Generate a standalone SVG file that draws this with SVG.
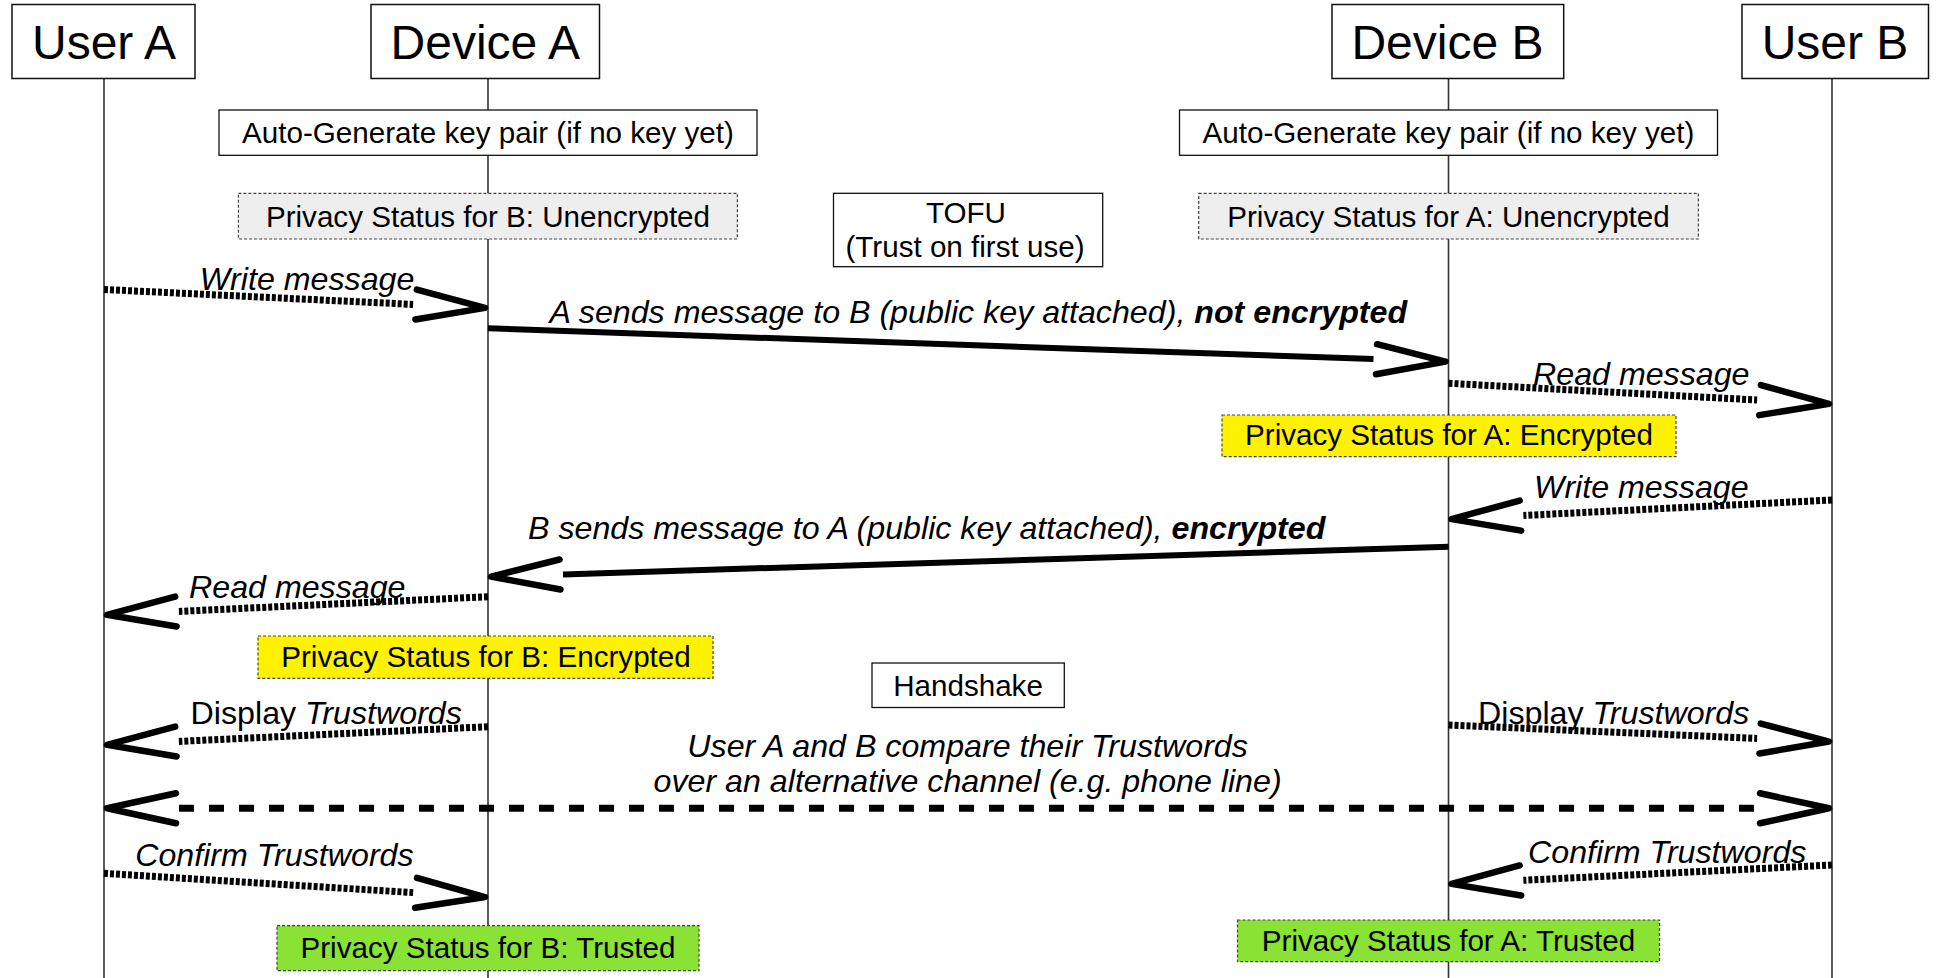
<svg xmlns="http://www.w3.org/2000/svg" width="1936" height="978" viewBox="0 0 1936 978">
<style>
  text { font-family: "Liberation Sans", Arial, sans-serif; fill: #000; }
  .title { font-size: 48px; text-anchor: middle; }
  .box { font-size: 29.6px; text-anchor: middle; }
  .lbl { font-size: 32.2px; font-style: italic; }
  .up { font-style: normal; }
  .mid { text-anchor: middle; }
  .life { stroke: #333; stroke-width: 1.6; fill: none; }
  .head { fill: #fff; stroke: #111; stroke-width: 1.5; }
  .plain { fill: #fff; stroke: #111; stroke-width: 1.3; }
  .status { stroke: #444; stroke-width: 1.2; stroke-dasharray: 3 2; }
  .gray { fill: #eeeeee; }
  .yellow { fill: #fff200; }
  .green { fill: #8ae234; }
  .dot { fill: none; stroke: #000; stroke-width: 7; stroke-dasharray: 4 2; marker-end: url(#ah); }
  .solid { fill: none; stroke: #000; stroke-width: 6; marker-end: url(#ah); }
  .dash { fill: none; stroke: #000; stroke-width: 7; stroke-dasharray: 15 15; marker-start: url(#ahs); marker-end: url(#ah); }
</style>
<defs>
  <marker id="ah" markerUnits="userSpaceOnUse" viewBox="-10 -25 100 50" markerWidth="100" markerHeight="50" refX="0" refY="0" orient="auto" overflow="visible">
    <path d="M3,-15 L72,0 L3,15" fill="none" stroke="#000" stroke-width="6.5" stroke-dasharray="none" stroke-linecap="round" stroke-linejoin="round"/>
  </marker>
  <marker id="ahs" markerUnits="userSpaceOnUse" viewBox="-90 -25 100 50" markerWidth="100" markerHeight="50" refX="0" refY="0" orient="auto" overflow="visible">
    <path d="M-3,-15 L-72,0 L-3,15" fill="none" stroke="#000" stroke-width="6.5" stroke-dasharray="none" stroke-linecap="round" stroke-linejoin="round"/>
  </marker>
</defs>
<rect width="1936" height="978" fill="#fff"/>

<g id="lifelines">
  <line class="life" x1="104" y1="78" x2="104" y2="978"/>
  <line class="life" x1="488" y1="78" x2="488" y2="978"/>
  <line class="life" x1="1448.5" y1="78" x2="1448.5" y2="978"/>
  <line class="life" x1="1832" y1="78" x2="1832" y2="978"/>
</g>

<g id="user-a"><rect class="head" x="12" y="4.5" width="183" height="74"/><text class="title" x="104" y="58.5">User A</text></g>
<g id="device-a"><rect class="head" x="371" y="4.5" width="228.5" height="74"/><text class="title" x="485.3" y="58.5">Device A</text></g>
<g id="device-b"><rect class="head" x="1332" y="4.5" width="231.7" height="74"/><text class="title" x="1447.5" y="58.5">Device B</text></g>
<g id="user-b"><rect class="head" x="1742" y="4.5" width="186.5" height="74"/><text class="title" x="1835" y="58.5">User B</text></g>

<g id="keygen-a"><rect class="plain" x="219" y="110" width="538" height="45.3"/><text class="box" x="488" y="142.7">Auto-Generate key pair (if no key yet)</text></g>
<g id="keygen-b"><rect class="plain" x="1179.5" y="110" width="538" height="45.3"/><text class="box" x="1448.5" y="142.7">Auto-Generate key pair (if no key yet)</text></g>

<g id="status-b-unencrypted"><rect class="status gray" x="238.4" y="193.3" width="499" height="45.7"/><text class="box" x="488" y="227">Privacy Status for B: Unencrypted</text></g>
<g id="status-a-unencrypted"><rect class="status gray" x="1198.7" y="193.3" width="499.7" height="45.7"/><text class="box" x="1448.5" y="227">Privacy Status for A: Unencrypted</text></g>

<g id="tofu"><rect class="plain" x="833.5" y="193.3" width="269.2" height="73.4"/><text class="box" x="966" y="223.3">TOFU</text><text class="box" x="965" y="256.7">(Trust on first use)</text></g>

<g id="status-a-encrypted"><rect class="status yellow" x="1222" y="415" width="454" height="41.7"/><text class="box" x="1449" y="445">Privacy Status for A: Encrypted</text></g>
<g id="status-b-encrypted"><rect class="status yellow" x="258" y="636" width="455" height="42.3"/><text class="box" x="486" y="666.7">Privacy Status for B: Encrypted</text></g>

<g id="handshake"><rect class="plain" x="872" y="663" width="192.3" height="44.5"/><text class="box" x="968" y="696">Handshake</text></g>

<g id="status-b-trusted"><rect class="status green" x="277" y="925.7" width="422" height="45"/><text class="box" x="488" y="957.5">Privacy Status for B: Trusted</text></g>
<g id="status-a-trusted"><rect class="status green" x="1237.5" y="920" width="422" height="41.7"/><text class="box" x="1448.5" y="951">Privacy Status for A: Trusted</text></g>

<g id="connectors">
  <line class="dot" x1="104" y1="289.5" x2="413.1" y2="304.4"/>
  <line class="solid" x1="488" y1="328.3" x2="1373.5" y2="359.1"/>
  <line class="dot" x1="1448.5" y1="383.3" x2="1757.1" y2="400"/>
  <line class="dot" x1="1832" y1="500" x2="1523.4" y2="515.5"/>
  <line class="solid" x1="1448.5" y1="546.7" x2="563" y2="574.4"/>
  <line class="dot" x1="488" y1="596.7" x2="178.9" y2="611.4"/>
  <line class="dot" x1="488" y1="726.7" x2="178.9" y2="741.4"/>
  <line class="dot" x1="1448.5" y1="725" x2="1757.1" y2="738.4"/>
  <line class="dash" x1="179" y1="808.3" x2="1757" y2="808.3"/>
  <line class="dot" x1="104" y1="873.3" x2="413.1" y2="892.6"/>
  <line class="dot" x1="1832" y1="865" x2="1523.4" y2="880.3"/>

  <text class="lbl" x="199.7" y="290">Write message</text>
  <text class="lbl" x="549.6" y="323">A sends message to B (public key attached), <tspan font-weight="bold">not encrypted</tspan></text>
  <text class="lbl" x="1533" y="385">Read message</text>
  <text class="lbl" x="1534" y="498">Write message</text>
  <text class="lbl" x="528" y="539.3">B sends message to A (public key attached), <tspan font-weight="bold">encrypted</tspan></text>
  <text class="lbl" x="189" y="597.5">Read message</text>
  <text class="lbl up" x="190.6" y="724">Display <tspan style="font-style:italic">Trustwords</tspan></text>
  <text class="lbl up" x="1478" y="724">Display <tspan style="font-style:italic">Trustwords</tspan></text>
  <text class="lbl mid" x="967.6" y="756.7">User A and B compare their Trustwords</text>
  <text class="lbl mid" x="967.6" y="791.7">over an alternative channel (e.g. phone line)</text>
  <text class="lbl" x="135.2" y="866">Confirm Trustwords</text>
  <text class="lbl" x="1528" y="863">Confirm Trustwords</text>
</g>
</svg>
